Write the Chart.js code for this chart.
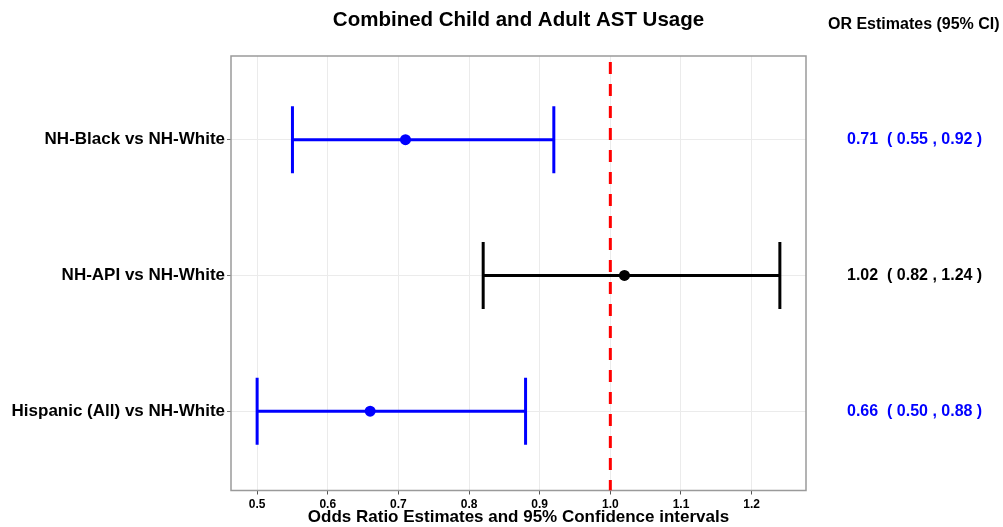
<!DOCTYPE html>
<html>
<head>
<meta charset="utf-8">
<script src="https://cdn.jsdelivr.net/npm/chart.js@4/dist/chart.umd.min.js"></script>
<style>
  html, body { margin: 0; padding: 0; background: #fff; }
  #wrap { width: 1003px; height: 527px; }
</style>
</head>
<body>
<div id="wrap"><canvas id="forest" width="1003" height="527"></canvas></div>
<script>
// ── Data ────────────────────────────────────────────────────
const CATEGORIES = ['NH-Black vs NH-White', 'NH-API vs NH-White', 'Hispanic (All) vs NH-White'];
const OR_EST = [0.71, 1.02, 0.66];
const CI_LOW = [0.55, 0.82, 0.50];
const CI_HIGH = [0.92, 1.24, 0.88];
const X_TICKS = [0.5, 0.6, 0.7, 0.8, 0.9, 1.0, 1.1, 1.2];
const REF_LINE = 1;

const TITLE = 'Combined Child and Adult AST Usage';
const RIGHT_HEADER = 'OR Estimates (95% CI)';
const X_TITLE = 'Odds Ratio Estimates and 95% Confidence intervals';

const FONT = '"Liberation Sans", Arial, Helvetica, sans-serif';

// y range of the panel (rows sit at 1, 2, 3)
const Y_MIN = 0.384, Y_MAX = 3.584;

// blue when the interval does not cross 1, black otherwise
const rowColor = i => (CI_HIGH[i] < REF_LINE || CI_LOW[i] > REF_LINE) ? '#0000FF' : '#000000';
const orLabel = i => `${OR_EST[i].toFixed(2)}  ( ${CI_LOW[i].toFixed(2)} , ${CI_HIGH[i].toFixed(2)} )`;

// ── Datasets ────────────────────────────────────────────────
const datasets = [];

// reference line at OR = 1
datasets.push({
    data: [{ x: REF_LINE, y: Y_MIN }, { x: REF_LINE, y: Y_MAX }],
    showLine: true,
    borderColor: '#FF0000',
    borderWidth: 3,
    borderDash: [12, 10],
    borderDashOffset: 16,
    pointRadius: 0,
    order: 3,
});

// confidence intervals with vertical caps
CATEGORIES.forEach((c, i) => {
    datasets.push({
        data: [{ x: CI_LOW[i], y: i + 1 }, { x: CI_HIGH[i], y: i + 1 }],
        showLine: true,
        borderColor: rowColor(i),
        borderWidth: 3,
        pointStyle: 'line',
        pointRotation: 90,
        pointRadius: 33.5,
        pointBorderWidth: 3,
        pointBorderColor: rowColor(i),
        order: 2,
    });
});

// point estimates
datasets.push({
    data: OR_EST.map((v, i) => ({ x: v, y: i + 1 })),
    pointRadius: 5.5,
    pointBorderWidth: 0,
    pointBackgroundColor: OR_EST.map((_, i) => rowColor(i)),
    order: 1,
});

// ── Plugins: panel frame + titles ───────────────────────────
const framePlugin = {
    id: 'frame',
    beforeDatasetsDraw(chart) {
        const { ctx, chartArea: a } = chart;
        ctx.save();
        ctx.strokeStyle = '#9a9a9a';
        ctx.lineWidth = 1.5;
        ctx.strokeRect(a.left, a.top, a.right - a.left, a.bottom - a.top);
        ctx.restore();
    }
};

const titlesPlugin = {
    id: 'titles',
    afterDraw(chart) {
        const { ctx, chartArea: a } = chart;
        ctx.save();
        ctx.fillStyle = '#000';
        ctx.textBaseline = 'middle';
        ctx.font = `bold 20.5px ${FONT}`;
        ctx.textAlign = 'center';
        ctx.fillText(TITLE, (a.left + a.right) / 2, 20);
        ctx.font = `bold 16px ${FONT}`;
        ctx.textAlign = 'left';
        ctx.fillText(RIGHT_HEADER, 828, 25);
        ctx.restore();
    }
};

// vertical axes should not add label overflow padding
const fixWidth = w => s => { s.width = w; s.paddingTop = 0; s.paddingBottom = 0; };

// ── Chart ───────────────────────────────────────────────────
const ctx = document.getElementById('forest').getContext('2d');
new Chart(ctx, {
    type: 'scatter',
    data: { datasets },
    options: {
        responsive: false,
        animation: false,
        events: [],
        layout: { padding: { top: 56, left: 0, right: 0, bottom: 0 } },
        plugins: {
            legend: { display: false },
            tooltip: { enabled: false },
        },
        scales: {
            x: {
                type: 'linear',
                min: 0.463,
                max: 1.277,
                afterBuildTicks: s => { s.ticks = X_TICKS.map(v => ({ value: v })); },
                afterFit: s => { s.height = 36; },
                grid: { color: '#EBEBEB', lineWidth: 1, tickColor: '#555', tickLength: 4 },
                border: { display: false },
                ticks: {
                    color: '#000',
                    padding: 3,
                    maxRotation: 0,
                    font: { family: FONT, size: 12, weight: 'bold' },
                    callback: v => v.toFixed(1),
                },
                title: {
                    display: true,
                    text: X_TITLE,
                    color: '#000',
                    padding: { top: 0, bottom: -1 },
                    font: { family: FONT, size: 17, weight: 'bold' },
                },
            },
            y: {
                type: 'linear',
                position: 'left',
                reverse: true,
                min: Y_MIN,
                max: Y_MAX,
                afterBuildTicks: s => { s.ticks = CATEGORIES.map((_, i) => ({ value: i + 1 })); },
                afterFit: fixWidth(231),
                grid: { color: '#EBEBEB', lineWidth: 1, tickColor: '#777', tickLength: 4 },
                border: { display: false },
                ticks: {
                    color: '#000',
                    padding: 2,
                    font: { family: FONT, size: 17, weight: 'bold' },
                    callback: v => CATEGORIES[v - 1],
                },
            },
            yr: {
                type: 'linear',
                position: 'right',
                reverse: true,
                min: Y_MIN,
                max: Y_MAX,
                afterBuildTicks: s => { s.ticks = CATEGORIES.map((_, i) => ({ value: i + 1 })); },
                afterFit: fixWidth(197),
                grid: { display: false },
                border: { display: false },
                ticks: {
                    padding: 33,
                    crossAlign: 'near',
                    font: { family: FONT, size: 16, weight: 'bold' },
                    color: c => rowColor(c.index),
                    callback: v => orLabel(v - 1),
                },
            },
        },
    },
    plugins: [framePlugin, titlesPlugin],
});
</script>
</body>
</html>
